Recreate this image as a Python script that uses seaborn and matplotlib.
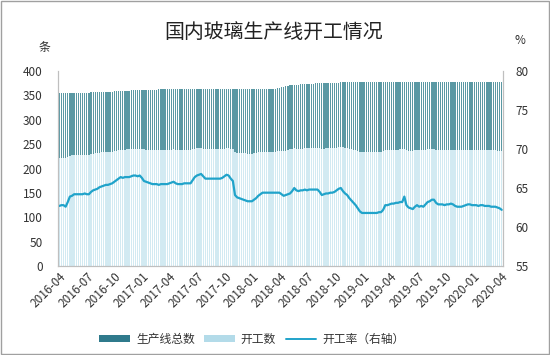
import numpy as np
import pandas as pd
import matplotlib
matplotlib.use("Agg")
import matplotlib.pyplot as plt
from matplotlib.patches import Patch, Rectangle
from matplotlib.lines import Line2D
import seaborn as sns

# ---------------- data (weekly, from 2016-04-01) ----------------
start_date = "2016-04-01"

total_lines = [
    354, 354, 354, 354, 354, 354, 355, 355, 355, 355, 355, 355, 355, 355, 355,
    356, 356, 356, 356, 356, 357, 357, 357, 357, 357, 357, 358, 358, 358, 358,
    359, 359, 360, 360, 361, 361, 361, 362, 362, 362, 362, 362, 362, 362, 362,
    362, 362, 363, 363, 363, 363, 363, 363, 363, 363, 363, 363, 363, 363, 363,
    363, 363, 363, 363, 363, 363, 363, 363, 363, 363, 363, 363, 363, 363, 363,
    363, 363, 363, 363, 363, 363, 363, 363, 363, 364, 364, 364, 364, 364, 364,
    364, 364, 364, 364, 364, 364, 364, 364, 364, 364, 364, 364, 364, 365, 366,
    367, 368, 369, 370, 371, 371, 372, 372, 372, 373, 373, 373, 374, 374, 374,
    374, 375, 375, 375, 375, 376, 376, 376, 376, 376, 376, 376, 376, 377, 377,
    377, 377, 377, 377, 377, 377, 377, 377, 377, 377, 377, 377, 377, 377, 377,
    377, 377, 377, 377, 378, 378, 378, 378, 378, 378, 378, 378, 378, 378, 378,
    378, 378, 378, 378, 378, 378, 378, 378, 378, 378, 378, 378, 378, 378, 378,
    378, 378, 378, 378, 378, 378, 378, 378, 378, 378, 378, 378, 378, 378, 378,
    378, 378, 378, 378, 378, 378, 378, 378, 378, 378, 378, 378, 378, 378, 378,
]

open_lines = [
    222, 222, 222, 221, 224, 226, 227, 228, 228, 228,
    228, 228, 228, 228, 228, 230, 230, 231, 231, 232,
    233, 233, 233, 233, 234, 234, 236, 236, 237, 238,
    238, 238, 239, 239, 240, 240, 240, 241, 241, 240,
    239, 238, 238, 237, 237, 237, 237, 237, 238, 238,
    238, 238, 238, 238, 239, 238, 238, 238, 238, 238,
    238, 238, 238, 240, 241, 242, 242, 243, 241, 240,
    240, 240, 240, 240, 240, 240, 240, 241, 241, 242,
    242, 240, 239, 233, 232, 232, 231, 231, 231, 230,
    230, 230, 231, 232, 233, 234, 234, 234, 234, 234,
    234, 234, 234, 235, 236, 236, 235, 236, 238, 239,
    240, 242, 241, 240, 241, 241, 242, 242, 242, 242,
    242, 243, 243, 242, 240, 241, 242, 242, 242, 242,
    243, 243, 244, 245, 244, 242, 242, 240, 239, 238,
    237, 235, 234, 233, 233, 233, 233, 233, 233, 233,
    233, 233, 233, 235, 237, 237, 238, 238, 238, 238,
    238, 239, 239, 241, 237, 236, 236, 235, 237, 237,
    237, 237, 237, 238, 239, 239, 240, 240, 238, 238,
    238, 238, 237, 238, 238, 238, 238, 237, 237, 237,
    237, 237, 237, 238, 238, 237, 237, 237, 237, 237,
    237, 237, 237, 237, 237, 237, 237, 236, 236, 235,
]

rate = [
    62.7, 62.8, 62.8, 62.6, 63.2, 63.9, 64.0, 64.2, 64.2, 64.2,
    64.2, 64.2, 64.3, 64.2, 64.2, 64.5, 64.7, 64.8, 64.9, 65.1,
    65.2, 65.3, 65.4, 65.4, 65.5, 65.6, 65.8, 66.0, 66.2, 66.4,
    66.3, 66.4, 66.4, 66.4, 66.5, 66.6, 66.6, 66.5, 66.6, 66.3,
    65.9, 65.8, 65.7, 65.6, 65.5, 65.5, 65.5, 65.4, 65.5, 65.5,
    65.5, 65.5, 65.6, 65.7, 65.8, 65.6, 65.5, 65.5, 65.5, 65.6,
    65.6, 65.6, 65.6, 66.0, 66.4, 66.6, 66.7, 66.8, 66.5, 66.2,
    66.2, 66.2, 66.2, 66.2, 66.2, 66.2, 66.2, 66.3, 66.5, 66.7,
    66.6, 66.2, 65.9, 64.1, 63.8, 63.7, 63.6, 63.5, 63.4, 63.3,
    63.3, 63.3, 63.5, 63.7, 64.0, 64.2, 64.4, 64.4, 64.4, 64.4,
    64.4, 64.4, 64.4, 64.4, 64.4, 64.2, 64.0, 64.1, 64.2, 64.3,
    64.6, 65.0, 64.7, 64.6, 64.7, 64.7, 64.8, 64.7, 64.8, 64.8,
    64.8, 64.8, 64.8, 64.5, 64.1, 64.2, 64.3, 64.3, 64.4, 64.4,
    64.5, 64.7, 64.9, 65.0, 64.6, 64.3, 64.1, 63.7, 63.4, 63.1,
    62.8, 62.4, 62.0, 61.8, 61.8, 61.8, 61.8, 61.8, 61.8, 61.8,
    61.8, 61.9, 61.9, 62.2, 62.8, 62.8, 62.9, 63.0, 63.0, 63.1,
    63.1, 63.2, 63.2, 63.9, 62.8, 62.5, 62.4, 62.3, 62.6, 62.8,
    62.6, 62.7, 62.6, 62.9, 63.2, 63.3, 63.5, 63.5, 63.1, 62.9,
    62.9, 62.9, 62.8, 62.9, 62.9, 63.0, 62.9, 62.7, 62.6, 62.6,
    62.6, 62.7, 62.8, 62.9, 62.9, 62.8, 62.8, 62.8, 62.7, 62.8,
    62.8, 62.7, 62.7, 62.7, 62.6, 62.6, 62.6, 62.5, 62.4, 62.2,
]

tick_labels = ["2016-04", "2016-07", "2016-10", "2017-01", "2017-04", "2017-07",
               "2017-10", "2018-01", "2018-04", "2018-07", "2018-10", "2019-01",
               "2019-04", "2019-07", "2019-10", "2020-01", "2020-04"]

title = "国内玻璃生产线开工情况"
series_names = ["生产线总数", "开工数", "开工率（右轴）"]

# ---------------- styling ----------------
sns.set_theme(style="white")
plt.rcParams["font.family"] = ["Noto Sans CJK SC", "DejaVu Sans"]
plt.rcParams["axes.unicode_minus"] = False

c_total = "#5a99a4"
c_open = "#d2eaf2"
c_rate = "#20a3ca"
c_axis = "#bfbfbf"
c_text = "#333333"

n = len(total_lines)
dates = pd.date_range(start_date, periods=n, freq="7D")
df = pd.DataFrame({"week": np.arange(n), "total": total_lines,
                   "open": open_lines, "rate": rate})
# idle lines: the part of each total bar that sits above the open bar
df["idle"] = df["total"] - df["open"]

fig = plt.figure(figsize=(5.5, 3.55), dpi=100)
ax = fig.add_axes([0.1055, 0.2507, 0.809, 0.5493])

sns.barplot(data=df, x="week", y="open", ax=ax, color=c_open,
            saturation=1, width=0.62, errorbar=None, linewidth=0,
            antialiased=False)
sns.barplot(data=df, x="week", y="idle", ax=ax, color=c_total,
            saturation=1, width=0.62, errorbar=None, linewidth=0,
            antialiased=False, bottom=df["open"].to_numpy())

ax2 = ax.twinx()
sns.lineplot(data=df, x="week", y="rate", ax=ax2, color=c_rate, lw=1.6)

ax.set_xlim(-0.6, n - 0.4)
ax2.set_xlim(-0.6, n - 0.4)
ax.set_ylim(0, 400)
ax2.set_ylim(55, 80)
ax.set_yticks(np.arange(0, 401, 50))
ax2.set_yticks(np.arange(55, 81, 5))

tick_dates = pd.to_datetime([t + "-01" for t in tick_labels])
tick_pos = (tick_dates - dates[0]).days / 7.0
ax.set_xticks(tick_pos)
ax.set_xticklabels(tick_labels, rotation=45, ha="right",
                   rotation_mode="anchor", fontsize=8.5, color=c_text)
ax.tick_params(axis="x", length=0, pad=3)
ax.tick_params(axis="y", length=0, pad=11, labelsize=8.5, labelcolor=c_text)
ax2.tick_params(axis="y", length=0, pad=9, labelsize=8.5, labelcolor=c_text)

for a in (ax, ax2):
    a.set_xlabel("")
    a.set_ylabel("")
    a.grid(False)
    a.spines["top"].set_visible(False)
    for s in ("left", "right", "bottom"):
        a.spines[s].set_color(c_axis)
        a.spines[s].set_linewidth(0.8)
ax.set_facecolor("none")

fig.text(0.498, 1 - 32 / 355, title, ha="center", va="center",
         fontsize=14.3, color="#222222")
fig.text(44 / 550, 1 - 48 / 355, "条", ha="center", va="center",
         fontsize=8.5, color=c_text)
fig.text(520 / 550, 1 - 41 / 355, "%", ha="center", va="center",
         fontsize=8.5, color=c_text)

handles = [Patch(facecolor="#2f7a8c", edgecolor="none"),
           Patch(facecolor="#b3dbe9", edgecolor="none"),
           Line2D([0], [0], color=c_rate, lw=1.4)]
fig.legend(handles, series_names, loc="center", ncol=3,
           bbox_to_anchor=(0.458, 1 - 339 / 355), frameon=False,
           fontsize=8.5, handlelength=2.6, handleheight=0.6,
           handletextpad=0.5, columnspacing=0.8, labelcolor=c_text)

fig.patches.append(Rectangle((0.002, 0.003), 0.996, 0.994,
                             transform=fig.transFigure, fill=False,
                             edgecolor="#a0a0a0", lw=1.0))

fig.savefig("out.png", dpi=100)
